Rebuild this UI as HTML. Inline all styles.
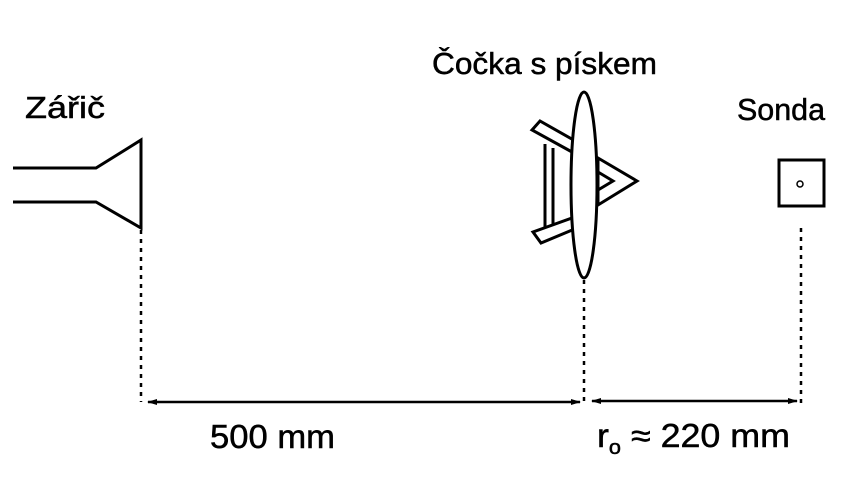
<!DOCTYPE html>
<html><head><meta charset="utf-8"><style>
body{margin:0;background:#fff;width:854px;height:486px;overflow:hidden}
svg text{font-family:"Liberation Sans",Arial,sans-serif;fill:#000;stroke:#000;stroke-width:0.5}
</style></head><body>
<svg width="854" height="486" viewBox="0 0 854 486">
<defs>
<marker id="ah" markerWidth="10" markerHeight="8" refX="9" refY="4" orient="auto-start-reverse" markerUnits="userSpaceOnUse">
<path d="M0,1 L10,4 L0,7 Z" fill="#000"/></marker>
</defs>
<text x="25" y="118" font-size="31" textLength="80" lengthAdjust="spacingAndGlyphs">Zářič</text>
<text x="432" y="74" font-size="31" textLength="225" lengthAdjust="spacingAndGlyphs">Čočka s pískem</text>
<text x="737" y="120" font-size="31" textLength="88" lengthAdjust="spacingAndGlyphs">Sonda</text>
<g fill="none" stroke="#000" stroke-width="3">
<polyline points="13,168 96,168 141,140 141,228 96,202 13,202"/>
</g>
<g fill="none" stroke="#000" stroke-width="3">
<polygon points="532,130 540,121 577,142 572,152"/>
<polygon points="533,232 541,243 577,228 572,218"/>
<line x1="545" y1="144" x2="545" y2="228"/>
<line x1="553" y1="148" x2="553" y2="224"/>
<polygon points="598,158 637,181 598,205"/>
<polygon points="598,172 613,181 598,190"/>
</g>
<ellipse cx="584" cy="185" rx="13" ry="93" fill="#fff" stroke="#000" stroke-width="3"/>
<g>
<rect x="779" y="160" width="45" height="46" fill="none" stroke="#000" stroke-width="3"/>
<circle cx="800" cy="184" r="3" fill="none" stroke="#000" stroke-width="1.5"/>
</g>
<g stroke="#000" stroke-width="2.5" stroke-dasharray="4,5">
<line x1="141" y1="230" x2="141" y2="402"/>
<line x1="584" y1="280" x2="584" y2="405"/>
<line x1="801" y1="228" x2="801" y2="408"/>
</g>
<g stroke="#000" stroke-width="2.5">
<line x1="148" y1="402" x2="580" y2="402" marker-start="url(#ah)" marker-end="url(#ah)"/>
<line x1="592" y1="401" x2="797" y2="401" marker-start="url(#ah)" marker-end="url(#ah)"/>
</g>
<text x="210" y="448" font-size="33" textLength="125" lengthAdjust="spacingAndGlyphs">500 mm</text>
<text x="597" y="447" font-size="33" textLength="193" lengthAdjust="spacingAndGlyphs">r<tspan font-size="20" dy="7">o</tspan><tspan dy="-7"> ≈ 220 mm</tspan></text>
</svg>
</body></html>
